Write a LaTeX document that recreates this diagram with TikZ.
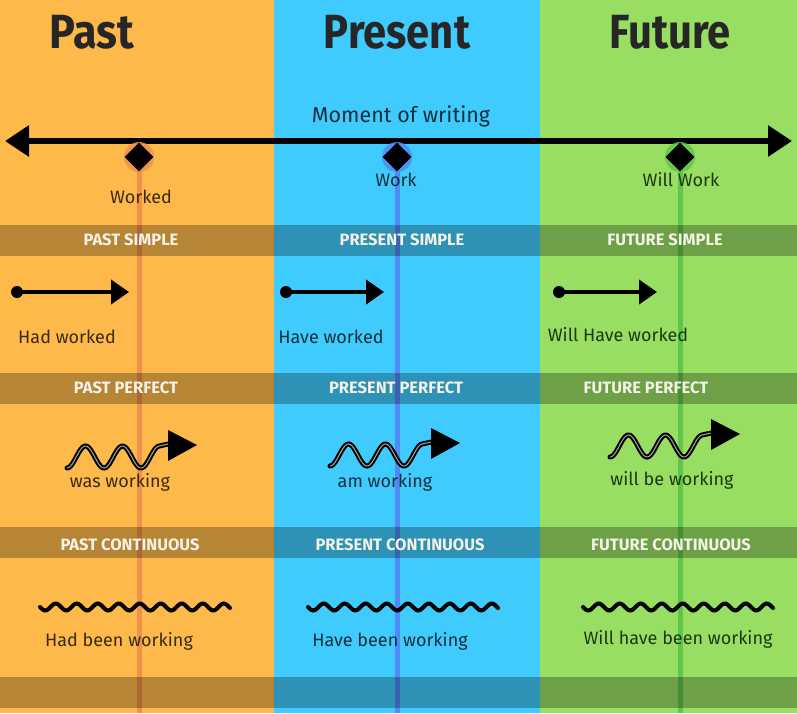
\documentclass[tikz,border=0pt]{standalone}
\usepackage{fontspec}
\setmainfont{Fira Sans}
\usetikzlibrary{arrows.meta,shapes.geometric}
\definecolor{pastbg}{HTML}{FDB94A}
\definecolor{presbg}{HTML}{3FCBFD}
\definecolor{futbg}{HTML}{98DE63}
\definecolor{pastln}{HTML}{F0904A}
\definecolor{presln}{HTML}{4F8AF7}
\definecolor{futln}{HTML}{5FC64A}
\definecolor{pasttx}{HTML}{3B2A12}
\definecolor{prestx}{HTML}{12303C}
\definecolor{futtx}{HTML}{1E3814}
\definecolor{bandtx}{HTML}{F4F1E6}
\begin{document}
\begin{tikzpicture}[x=1pt,y=-1pt,
  band/.style={fill=black,fill opacity=0.28},
  bandtext/.style={text=bandtx,font=\fontsize{16.5}{17}\selectfont\bfseries},
  lbl/.style={font=\fontsize{18}{18}\selectfont},
  head/.style={text=black!85,font=\fontsize{48}{48}\selectfont\bfseries},
  tip/.style={line width=6pt,{Triangle[length=24pt,width=30pt]}-{Triangle[length=24pt,width=30pt]}}]
\useasboundingbox (0,0) rectangle (797,713);
\path
(139,157) coordinate (pastpt)
(397,157) coordinate (prespt)
(680,157) coordinate (futpt)
(5,141) coordinate (tl)
(792,141) coordinate (tr)
(0,713) coordinate (bot)
;
% columns
\fill[pastbg] (0,0) rectangle (274,713);
\fill[presbg] (274,0) rectangle (540,713);
\fill[futbg] (540,0) rectangle (797,713);

% time lines down the columns
\foreach \p/\c in {pastpt/pastln, prespt/presln, futpt/futln}
\draw[line width=5pt,\c] (\p) -- (\p |- bot);

\foreach \y in {225,373,527,677}
\fill[band] (0,\y) rectangle (797,\y+31);

\node[head] (past) at (92,32) {\scalebox{0.9}[1]{Past}};
\node[head] (present) at (397,32) {\scalebox{0.87}[1]{Present}};
\node[head] (future) at (670,32) {\scalebox{0.87}[1]{Future}};

% moment of writing
\node[lbl,text=prestx,font=\fontsize{21.5}{22}\selectfont] (mow) at (401,116) {Moment of writing};
\draw[tip] (tl) -- (tr);
\foreach \p/\c in {pastpt/pastln, prespt/presln, futpt/futln}{
\fill[\c,opacity=0.85] (\p) circle (15pt);
\node[diamond,fill=black,inner sep=0,minimum size=29pt] (\p-dm) at (\p) {};
}
\node[lbl,text=pasttx] (worked) at (141,197) {Worked};
\node[lbl,text=prestx] (work) at (396,180) {Work};
\node[lbl,text=futtx] (willwork) at (681,180) {Will Work};

% band titles
\node[bandtext] (ps) at (131,240) {PAST SIMPLE};
\node[bandtext] (prs) at (402,240) {PRESENT SIMPLE};
\node[bandtext] (fs) at (665,240) {FUTURE SIMPLE};
\node[bandtext] (pp) at (126,388) {PAST PERFECT};
\node[bandtext] (prp) at (396,388) {PRESENT PERFECT};
\node[bandtext] (fp) at (646,388) {FUTURE PERFECT};
\node[bandtext] (pc) at (130,545) {PAST CONTINUOUS};
\node[bandtext] (prc) at (400,545) {PRESENT CONTINUOUS};
\node[bandtext] (fc) at (671,545) {FUTURE CONTINUOUS};

% simple: dot and arrow
\foreach \x/\l in {17/112, 286/98, 559/98}{
\fill (\x,292) circle (6pt);
\draw[line width=4pt,-{Triangle[length=18pt,width=24pt]}] (\x,292) -- (\x+\l,292);
}
\node[lbl,text=pasttx] (hadw) at (67,337) {Had worked};
\node[lbl,text=prestx] (havew) at (331,337) {Have worked};
\node[lbl,text=futtx] (willhw) at (618,335) {Will Have worked};

% perfect: wave into arrow
\foreach \x/\y in {67/457, 330/455, 610/446}{
\draw[line width=2pt,double=white!65!black,double distance=1pt,line cap=round]
  plot[variable=\t,domain=0:92,samples=60,smooth] ({\x+\t},{\y+11*cos(9.73*\t)}) -- ++(9,-2);
\fill (\x+101,\y-27) -- (\x+130,\y-12) -- (\x+101,\y+4) -- cycle;
}
\node[lbl,text=pasttx] (wasw) at (120,482) {was working};
\node[lbl,text=prestx] (amw) at (385,482) {am working};
\node[lbl,text=futtx] (willbw) at (672,480) {will be working};

% continuous: long wave
\foreach \x in {40,308,583}
\draw[line width=4pt,line cap=round]
  plot[variable=\t,domain=0:190,samples=120,smooth] ({\x+\t},{607+3.5*sin(17.14*\t)});
\node[lbl,text=pasttx] (hadbw) at (119,641) {Had been working};
\node[lbl,text=prestx] (havebw) at (390,641) {Have been working};
\node[lbl,text=futtx] (willhbw) at (678,639) {Will have been working};
\end{tikzpicture}
\end{document}
